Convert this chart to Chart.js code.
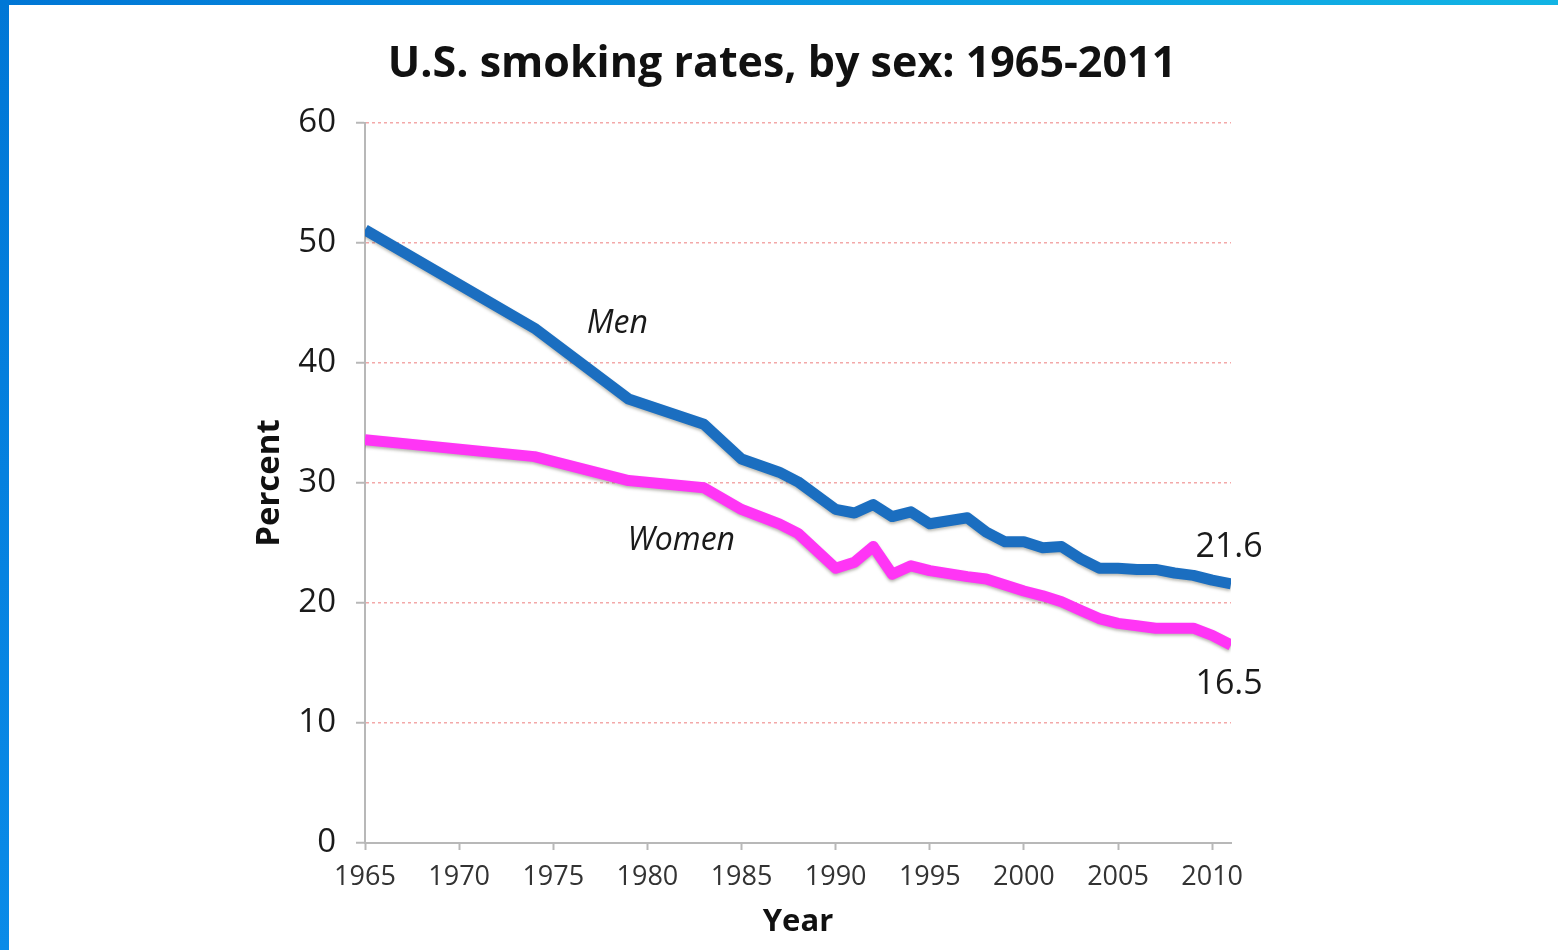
<!DOCTYPE html>
<html>
<head>
<meta charset="utf-8">
<script src="https://cdn.jsdelivr.net/npm/chart.js@4.4.1/dist/chart.umd.min.js"></script>
<style>
  html, body { margin: 0; padding: 0; background: #fff; }
  #wrap { position: relative; width: 1558px; height: 950px; overflow: hidden; }
  #chart { position: absolute; left: 0; top: 0; }
  .edge-top { position: absolute; left: 0; top: 0; width: 1558px; height: 5px;
    background: linear-gradient(to right, #0076d5, #0a8fe0 40%, #12b4e4); z-index: 2; }
  .edge-left { position: absolute; left: 0; top: 0; width: 9px; height: 950px;
    background: linear-gradient(to bottom, #0077d6, #0a8be8); z-index: 2; }
</style>
</head>
<body>
<div id="wrap">
  <canvas id="chart" width="1558" height="950"></canvas>
  <div class="edge-top"></div>
  <div class="edge-left"></div>
</div>
<script>
// survey years and rates (percent)
const years = [1965, 1974, 1979, 1983, 1985, 1987, 1988, 1990, 1991, 1992, 1993, 1994, 1995, 1997,
               1998, 1999, 2000, 2001, 2002, 2003, 2004, 2005, 2006, 2007, 2008, 2009, 2010, 2011];
const menRates = [51.1, 42.9, 37.0, 34.9, 32.0, 30.9, 30.1, 27.8, 27.5, 28.2, 27.2, 27.6, 26.6, 27.1,
                  25.9, 25.1, 25.1, 24.6, 24.7, 23.7, 22.9, 22.9, 22.8, 22.8, 22.5, 22.3, 21.9, 21.6];
const womenRates = [33.6, 32.2, 30.2, 29.6, 27.8, 26.6, 25.8, 22.9, 23.4, 24.7, 22.4, 23.1, 22.7, 22.2,
                    22.0, 21.5, 21.0, 20.6, 20.1, 19.4, 18.7, 18.3, 18.1, 17.9, 17.9, 17.9, 17.3, 16.5];
const xTicks = [1965, 1970, 1975, 1980, 1985, 1990, 1995, 2000, 2005, 2010];
const yTicks = [0, 10, 20, 30, 40, 50, 60];
const seriesNames = ['Men', 'Women'];
const endLabels = ['21.6', '16.5'];
const chartTitle = 'U.S. smoking rates, by sex: 1965-2011';

const FONT = '"Open Sans", "DejaVu Sans", sans-serif';

// text placed in data coordinates
const notes = [
    { text: seriesNames[0], x: 1978.4, y: 43.3, style: 'italic', size: 32 },
    { text: seriesNames[1], x: 1981.8, y: 25.2, style: 'italic', size: 32 },
    { text: endLabels[0], x: 2010.9, y: 24.6, style: 'normal', size: 34 },
    { text: endLabels[1], x: 2010.9, y: 13.2, style: 'normal', size: 34 }
];

const notesPlugin = {
    id: 'notes',
    beforeDatasetDraw(chart) {
        const ctx = chart.ctx;
        ctx.save();
        ctx.shadowColor = 'rgba(60,60,40,0.35)';
        ctx.shadowOffsetY = 2;
        ctx.shadowBlur = 3;
    },
    afterDatasetDraw(chart) {
        chart.ctx.restore();
    },
    afterDraw(chart) {
        const ctx = chart.ctx;
        const xs = chart.scales.x, ys = chart.scales.y;
        ctx.save();
        ctx.fillStyle = '#1a1a1a';
        ctx.textAlign = 'center';
        ctx.textBaseline = 'middle';
        notes.forEach(n => {
            ctx.font = `${n.style} ${n.size}px ${FONT}`;
            ctx.fillText(n.text, xs.getPixelForValue(n.x), ys.getPixelForValue(n.y));
        });
        // title sits centred on the figure, not on the plot box
        ctx.fillStyle = '#111';
        ctx.font = `bold 43px ${FONT}`;
        ctx.fillText(chartTitle, 782, 65);
        ctx.restore();
    }
};

const toPoints = vals => vals.map((v, i) => ({ x: years[i], y: v }));

new Chart(document.getElementById('chart').getContext('2d'), {
    type: 'line',
    data: {
        datasets: [{
            label: seriesNames[0],
            data: toPoints(menRates),
            borderColor: '#1b6ec0',
            borderWidth: 11,
            borderJoinStyle: 'round',
            pointRadius: 0,
            tension: 0
        }, {
            label: seriesNames[1],
            data: toPoints(womenRates),
            borderColor: '#ff35f5',
            borderWidth: 11,
            borderJoinStyle: 'round',
            pointRadius: 0,
            tension: 0
        }]
    },
    plugins: [notesPlugin],
    options: {
        responsive: false,
        animation: false,
        layout: { padding: { left: 250, right: 327, top: 123, bottom: 0 } },
        plugins: {
            legend: { display: false },
            tooltip: { enabled: false },
            title: { display: false }
        },
        scales: {
            x: {
                type: 'linear',
                min: 1965,
                max: 2011,
                afterBuildTicks: s => { s.ticks = xTicks.map(v => ({ value: v })); },
                afterFit: s => { s.height = 107; },
                ticks: {
                    color: '#333',
                    font: { family: FONT, size: 27 },
                    padding: 11,
                    maxRotation: 0,
                    callback: v => String(v)
                },
                grid: { drawOnChartArea: false, tickColor: '#b8b8b8', tickLength: 7, tickWidth: 2 },
                border: { color: '#b8b8b8', width: 2 },
                title: {
                    display: true,
                    text: 'Year',
                    color: '#111',
                    font: { family: FONT, size: 31, weight: 'bold' },
                    padding: { top: 0, bottom: 9 }
                }
            },
            y: {
                min: 0,
                max: 60,
                afterBuildTicks: s => { s.ticks = yTicks.map(v => ({ value: v })); },
                afterFit: s => { s.width = 115; },
                ticks: {
                    color: '#1a1a1a',
                    font: { family: FONT, size: 33 },
                    padding: 20
                },
                grid: { color: '#f3a8a8', lineWidth: 1.5, tickColor: '#b8b8b8', tickLength: 9, tickWidth: 2 },
                border: { color: '#b8b8b8', width: 2, dash: [3, 3] },
                title: {
                    display: true,
                    text: 'Percent',
                    color: '#111',
                    font: { family: FONT, size: 33, weight: 'bold' },
                    padding: { top: 0, bottom: 0 }
                }
            }
        }
    }
});
</script>
</body>
</html>
